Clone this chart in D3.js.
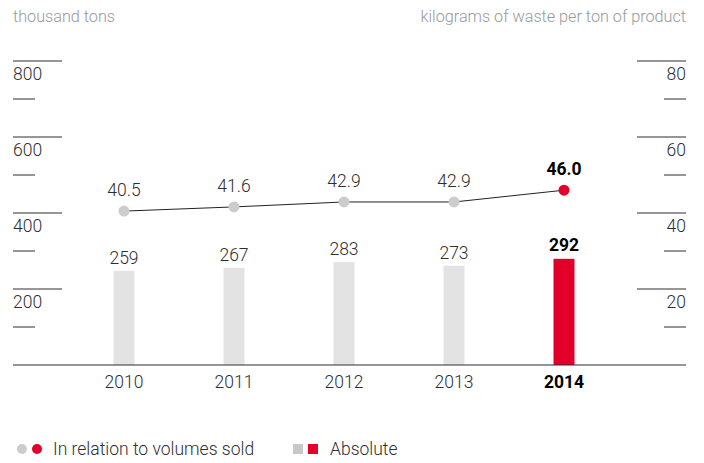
<!DOCTYPE html>
<html>
<head>
<meta charset="utf-8">
<script src="https://cdn.jsdelivr.net/npm/d3@7"></script>
<style>
  body { margin: 0; background: #fff; }
  text { font-family: Roboto, "Liberation Sans", sans-serif; font-weight: 300; }
</style>
</head>
<body>
<div id="chart"></div>
<script>
// values
var years = ["2010", "2011", "2012", "2013", "2014"];
var absolute = [259, 267, 283, 273, 292];      // thousand tons
var relative = [40.5, 41.6, 42.9, 42.9, 46.0]; // kg per ton of product
var leftTicks = [200, 400, 600, 800];
var rightTicks = [20, 40, 60, 80];

var W = 704, H = 463;
var baseY = 365, topY = 61;
var grey = "#cccccc", barGrey = "#e3e3e3", red = "#e2002a", ink = "#2e2e2e";

var svg = d3.select("#chart").append("svg")
    .attr("width", W).attr("height", H);

var x = d3.scalePoint().domain(years).range([124, 564]);
// axis scales
var yL = d3.scaleLinear().domain([0, 800]).range([baseY, topY]);
var yR = d3.scaleLinear().domain([0, 80]).range([baseY, topY]);
// the bars run a touch short of the printed axis
var yBar = d3.scaleLinear().domain([0, 836]).range([baseY, topY]);

var last = years.length - 1;

// units
svg.append("text").attr("x", 13).attr("y", 22)
    .style("font-size", "16.2px").attr("fill", "#999")
    .text("thousand tons");
svg.append("text").attr("x", 686).attr("y", 22).attr("text-anchor", "end")
    .style("font-size", "16.2px").attr("fill", "#999")
    .text("kilograms of waste per ton of product");

// left axis: long line over each label, short line at the half steps
leftTicks.forEach(function (t) {
  svg.append("line").attr("x1", 13).attr("x2", 62)
      .attr("y1", yL(t)).attr("y2", yL(t))
      .attr("stroke", ink).attr("stroke-width", 1);
  svg.append("line").attr("x1", 13).attr("x2", 35)
      .attr("y1", yL(t - 100)).attr("y2", yL(t - 100))
      .attr("stroke", ink).attr("stroke-width", 1);
  svg.append("text").attr("x", 13).attr("y", yL(t) + 19)
      .style("font-size", "17.5px").attr("fill", ink).text(t);
});

// right axis
rightTicks.forEach(function (t) {
  svg.append("line").attr("x1", 637).attr("x2", 686)
      .attr("y1", yR(t)).attr("y2", yR(t))
      .attr("stroke", ink).attr("stroke-width", 1);
  svg.append("line").attr("x1", 664).attr("x2", 686)
      .attr("y1", yR(t - 10)).attr("y2", yR(t - 10))
      .attr("stroke", ink).attr("stroke-width", 1);
  svg.append("text").attr("x", 686).attr("y", yR(t) + 19).attr("text-anchor", "end")
      .style("font-size", "17.5px").attr("fill", ink).text(t);
});

// bars
var bw = 21;
svg.selectAll("rect.bar").data(absolute).enter().append("rect")
    .attr("class", "bar")
    .attr("x", function (d, i) { return x(years[i]) - bw / 2; })
    .attr("y", function (d) { return yBar(d); })
    .attr("width", bw)
    .attr("height", function (d) { return baseY - yBar(d); })
    .attr("fill", function (d, i) { return i === last ? red : barGrey; });

svg.selectAll("text.barlab").data(absolute).enter().append("text")
    .attr("class", "barlab")
    .attr("x", function (d, i) { return x(years[i]); })
    .attr("y", function (d, i) { return yBar(d) - (i === last ? 8 : 7); })
    .attr("text-anchor", "middle")
    .style("font-size", "17.5px")
    .style("font-weight", function (d, i) { return i === last ? 700 : 300; })
    .attr("fill", function (d, i) { return i === last ? "#000" : ink; })
    .text(function (d) { return d; });

// baseline
svg.append("line").attr("x1", 13).attr("x2", 686)
    .attr("y1", baseY).attr("y2", baseY)
    .attr("stroke", ink).attr("stroke-width", 1.2);

// line series
var line = d3.line()
    .x(function (d, i) { return x(years[i]); })
    .y(function (d) { return yR(d); });
svg.append("path").datum(relative)
    .attr("d", line).attr("fill", "none")
    .attr("stroke", "#222").attr("stroke-width", 1);

svg.selectAll("circle.pt").data(relative).enter().append("circle")
    .attr("class", "pt")
    .attr("cx", function (d, i) { return x(years[i]); })
    .attr("cy", function (d) { return yR(d); })
    .attr("r", 5.5)
    .attr("fill", function (d, i) { return i === last ? red : grey; });

svg.selectAll("text.ptlab").data(relative).enter().append("text")
    .attr("class", "ptlab")
    .attr("x", function (d, i) { return x(years[i]); })
    .attr("y", function (d) { return yR(d) - 15; })
    .attr("text-anchor", "middle")
    .style("font-size", "17.5px")
    .style("font-weight", function (d, i) { return i === last ? 700 : 300; })
    .attr("fill", function (d, i) { return i === last ? "#000" : ink; })
    .text(function (d) { return d.toFixed(1); });

// year labels
svg.selectAll("text.year").data(years).enter().append("text")
    .attr("class", "year")
    .attr("x", function (d) { return x(d); })
    .attr("y", 388)
    .attr("text-anchor", "middle")
    .style("font-size", "17.5px")
    .style("font-weight", function (d, i) { return i === last ? 700 : 300; })
    .attr("fill", function (d, i) { return i === last ? "#000" : ink; })
    .text(function (d) { return d; });

// legend
var ly = 449;
svg.append("circle").attr("cx", 22).attr("cy", ly).attr("r", 5).attr("fill", grey);
svg.append("circle").attr("cx", 37).attr("cy", ly).attr("r", 5).attr("fill", red);
svg.append("text").attr("x", 53).attr("y", ly + 6)
    .style("font-size", "17.5px").attr("fill", ink).text("In relation to volumes sold");
svg.append("rect").attr("x", 293).attr("y", ly - 5).attr("width", 10).attr("height", 10).attr("fill", "#c8c8c8");
svg.append("rect").attr("x", 308).attr("y", ly - 5).attr("width", 10).attr("height", 10).attr("fill", red);
svg.append("text").attr("x", 330).attr("y", ly + 6)
    .style("font-size", "17.5px").attr("fill", ink).text("Absolute");
</script>
</body>
</html>
